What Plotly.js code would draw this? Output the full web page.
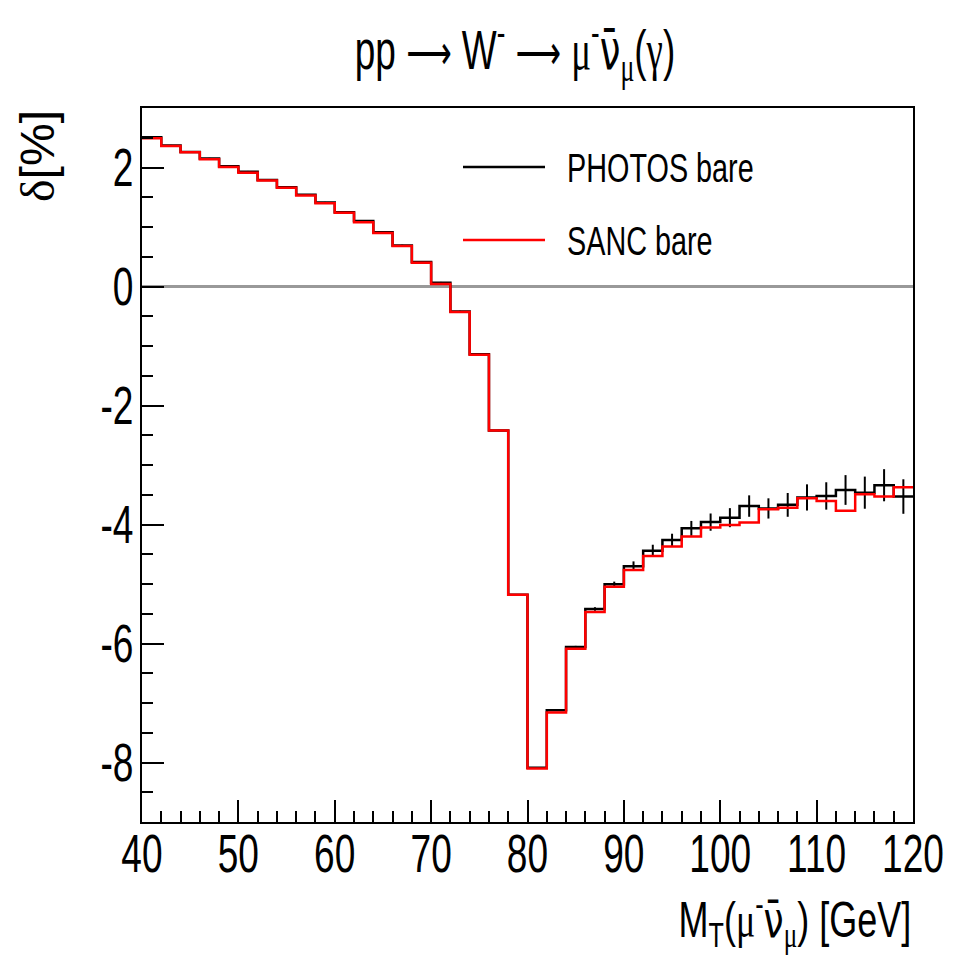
<!DOCTYPE html>
<html>
<head>
<meta charset="utf-8">
<script src="https://cdn.plot.ly/plotly-3.0.1.min.js"></script>
<style>html,body{margin:0;padding:0;background:#fff;}#plot{width:956px;height:956px;}</style>
</head>
<body>
<div id="plot"></div>
<script>
// Bin edges of M_T (GeV)
const binEdges = [40,42,44,46,48,50,52,54,56,58,60,62,64,66,68,70,72,74,76,78,80,
                  82,84,86,88,90,92,94,96,98,100,102,104,106,108,110,112,114,116,118,120];
// PHOTOS bare, delta [%]
const photos = [2.51, 2.37, 2.26, 2.15, 2.02, 1.93, 1.79, 1.67, 1.54, 1.41,
                1.25, 1.10, 0.91, 0.69, 0.41, 0.065, -0.42, -1.14, -2.42, -5.18,
                -8.09, -7.12, -6.06, -5.42, -5.005, -4.70, -4.44, -4.26, -4.065, -3.96,
                -3.885, -3.69, -3.73, -3.67, -3.545, -3.52, -3.42, -3.465, -3.34, -3.53];
const photosErr = [0.01, 0.01, 0.01, 0.012, 0.012, 0.012, 0.012, 0.012, 0.012, 0.012,
                   0.012, 0.012, 0.012, 0.012, 0.012, 0.012, 0.012, 0.012, 0.012, 0.012,
                   0.012, 0.015, 0.02, 0.03, 0.045, 0.08, 0.10, 0.105, 0.125, 0.145,
                   0.16, 0.18, 0.17, 0.20, 0.22, 0.23, 0.25, 0.27, 0.27, 0.29];
// SANC bare, delta [%]
const sanc = [2.49, 2.36, 2.255, 2.14, 2.01, 1.91, 1.78, 1.66, 1.53, 1.40,
              1.24, 1.08, 0.90, 0.68, 0.40, 0.04, -0.43, -1.145, -2.42, -5.18,
              -8.10, -7.16, -6.09, -5.47, -5.045, -4.765, -4.53, -4.37, -4.20, -4.05,
              -4.01, -3.965, -3.745, -3.72, -3.56, -3.605, -3.77, -3.49, -3.53, -3.375];
// Tick labels
const xTickVals = [40, 50, 60, 70, 80, 90, 100, 110, 120];
const xTickText = ['40', '50', '60', '70', '80', '90', '100', '110', '120'];
const yTickVals = [-8, -6, -4, -2, 0, 2];
const yTickText = ['-8', '-6', '-4', '-2', '0', '2'];
const legendLabels = ["PHOTOS bare", "SANC bare"];
const seriesColors = ["#000000", "#ff0000"];

const FONT = '"Liberation Sans", Arial, Helvetica, sans-serif';
const GREEK = s => '<span style="font-family:Liberation Serif">' + s + '</span>';
const NUBAR = '<span style="font-family:DejaVu Sans">ν̄</span>';
const ARROW = '<span style="font-family:DejaVu Sans;font-size:48px">⟶</span>';

const centers = binEdges.slice(0, -1).map((e, i) => (e + binEdges[i + 1]) / 2);
const stepY = arr => arr.concat([arr[arr.length - 1]]);

const traces = [
  {x: binEdges, y: stepY(photos), mode: 'lines', line: {shape: 'hv', color: seriesColors[0], width: 2.5},
   name: legendLabels[0], showlegend: false, hoverinfo: 'skip'},
  {x: centers, y: photos, mode: 'markers', marker: {size: 1, color: seriesColors[0]},
   error_y: {type: 'data', array: photosErr, visible: true, color: seriesColors[0], thickness: 2, width: 0},
   showlegend: false},
  {x: binEdges, y: stepY(sanc), mode: 'lines', line: {shape: 'hv', color: seriesColors[1], width: 2.5},
   name: legendLabels[1], showlegend: false, hoverinfo: 'skip'}
];

const L = 142, R = 913, T = 108, B = 822;
const px = v => (v - L) / (R - L);
const py = v => (B - v) / (B - T);

const layout = {
  width: 956, height: 956,
  margin: {l: L, r: 956 - R, t: T, b: 956 - B},
  paper_bgcolor: '#fff', plot_bgcolor: '#fff',
  showlegend: false,
  font: {family: FONT, color: '#000'},
  title: {text: 'pp ' + ARROW + ' W<sup>-</sup> ' + ARROW + ' ' + GREEK('μ') + '<sup>-</sup>' + NUBAR + '<sub>' + GREEK('μ') + '</sub>(' + GREEK('γ') + ')',
          font: {family: FONT, size: 56, color: '#000'},
          x: 515 / 956, xanchor: 'center', xref: 'container', y: 0.948, yanchor: 'middle', yref: 'container'},
  xaxis: {range: [40, 120], tickmode: 'array', tickvals: xTickVals, ticktext: xTickText,
          ticks: 'inside', ticklen: 22, tickwidth: 2, tickcolor: '#000',
          minor: {dtick: 2, tick0: 40, ticks: 'inside', ticklen: 11, tickwidth: 2, tickcolor: '#000'},
          showline: true, linewidth: 2, linecolor: '#000', mirror: true, showgrid: false, zeroline: false,
          tickfont: {family: FONT, size: 53, color: '#000'}, ticklabelstandoff: -16, ticklabeloverflow: 'allow'},
  yaxis: {range: [-9, 3], tickmode: 'array', tickvals: yTickVals, ticktext: yTickText,
          ticks: 'inside', ticklen: 22, tickwidth: 2, tickcolor: '#000',
          minor: {dtick: 0.5, tick0: 0, ticks: 'inside', ticklen: 11, tickwidth: 2, tickcolor: '#000'},
          showline: true, linewidth: 2, linecolor: '#000', mirror: true, showgrid: false,
          zeroline: true, zerolinecolor: '#999999', zerolinewidth: 3,
          tickfont: {family: FONT, size: 53, color: '#000'}, ticklabelstandoff: -4, ticklabeloverflow: 'allow'},
  shapes: [
    {type: 'line', xref: 'paper', yref: 'paper', x0: px(463), x1: px(545), y0: py(167), y1: py(167),
     line: {color: seriesColors[0], width: 2.5}},
    {type: 'line', xref: 'paper', yref: 'paper', x0: px(463), x1: px(545), y0: py(240), y1: py(240),
     line: {color: seriesColors[1], width: 2.5}}
  ],
  annotations: [
    {text: legendLabels[0], xref: 'paper', yref: 'paper', x: px(565), y: py(168), xanchor: 'left', yanchor: 'middle',
     showarrow: false, font: {family: FONT, size: 40, color: '#000'}},
    {text: legendLabels[1], xref: 'paper', yref: 'paper', x: px(565), y: py(241), xanchor: 'left', yanchor: 'middle',
     showarrow: false, font: {family: FONT, size: 40, color: '#000'}},
    {text: 'M<sub>T</sub>(' + GREEK('μ') + '<sup>-</sup>' + NUBAR + '<sub>' + GREEK('μ') + '</sub>) [GeV]',
     xref: 'paper', yref: 'paper', x: 1, y: py(920),
     xanchor: 'right', yanchor: 'middle', showarrow: false, font: {family: FONT, size: 50, color: '#000'}},
    {text: GREEK('δ') + '[%]', xref: 'paper', yref: 'paper', x: px(37), y: py(156), textangle: -90,
     xanchor: 'center', yanchor: 'middle', showarrow: false, font: {family: FONT, size: 48, color: '#000'}}
  ]
};

// Horizontally condense text (the reference's lettering is narrow), keeping the anchor point fixed.
function condense(el, s, mode) {
  const bb = el.getBBox();
  let cx = bb.x + bb.width / 2;
  if (mode === 'start') cx = bb.x;
  if (mode === 'end') cx = bb.x + bb.width;
  const prev = el.getAttribute('transform') || '';
  el.setAttribute('transform', prev + ' translate(' + cx + ',0) scale(' + s + ',1) translate(' + (-cx) + ',0)');
}

Plotly.newPlot('plot', traces, layout, {staticPlot: true, displayModeBar: false}).then(gd => {
  gd.querySelectorAll('.xtick text').forEach(t => condense(t, 0.70, 'middle'));
  gd.querySelectorAll('.ytick text').forEach(t => condense(t, 0.70, 'end'));
  gd.querySelectorAll('text.gtitle').forEach(t => condense(t, 0.66, 'middle'));
  const ann = i => gd.querySelector('.annotation[data-index="' + i + '"] text');
  [0, 1].forEach(i => { const t = ann(i); if (t) condense(t, 0.72, 'start'); });
  const xt = ann(2); if (xt) condense(xt, 0.72, 'end');
});
</script>
</body>
</html>
